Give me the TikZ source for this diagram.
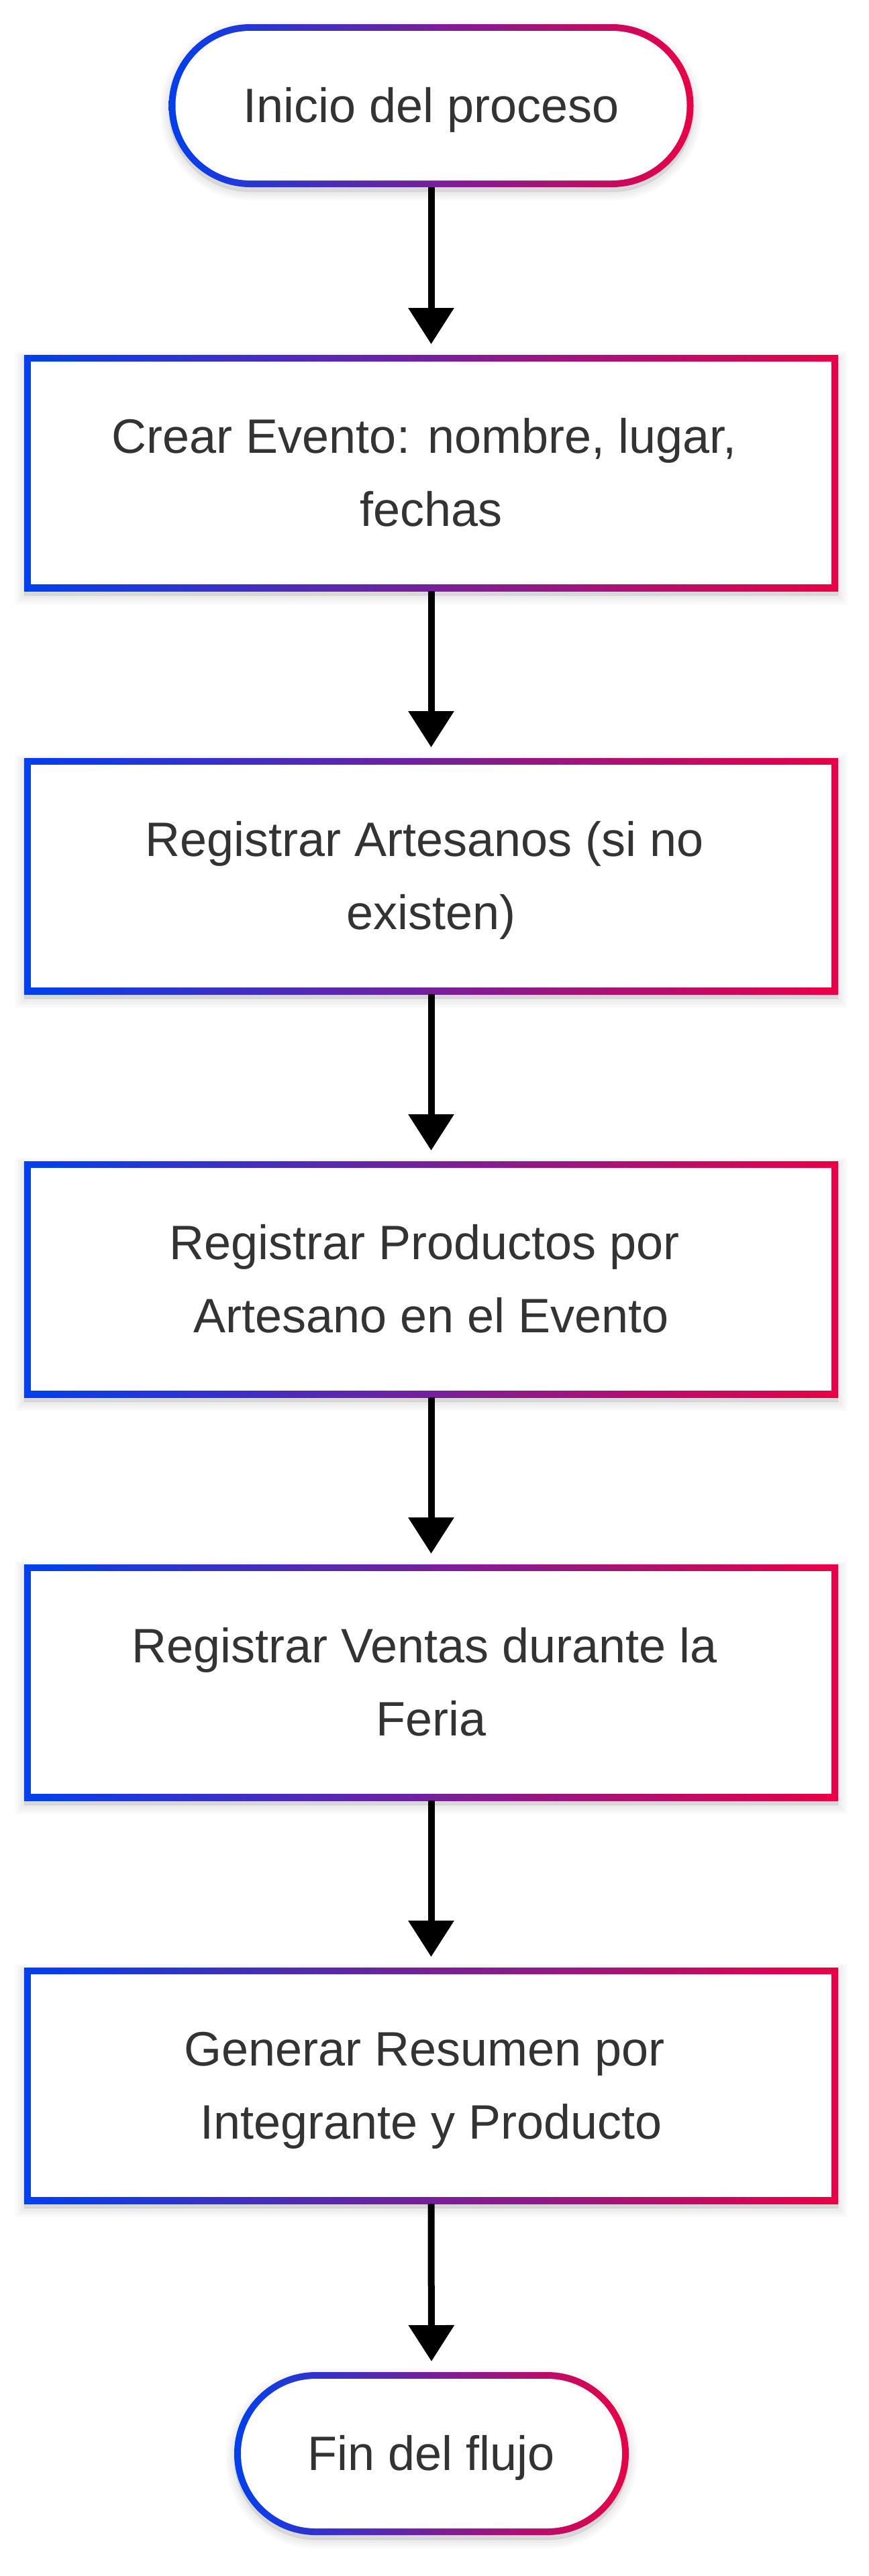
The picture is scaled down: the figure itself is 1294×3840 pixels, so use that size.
\documentclass[tikz,border=0pt]{standalone}
\usepackage{fontspec}
\setmainfont{Liberation Sans}
\usetikzlibrary{arrows.meta}
\newdimen\pxu \pxu=0.2pt
\definecolor{gblue}{HTML}{0040F0}
\definecolor{gred}{HTML}{EB0045}
\definecolor{txt}{HTML}{333333}
\newcommand\mystrut{\rule[-6pt]{0pt}{21.8pt}}
\newcommand\tsp{\hspace*{0.278em}}
\begin{document}
\begin{tikzpicture}[x=0.2pt,y=-0.2pt,
  shadowlayer/.style={preaction={fill=black, draw=black, opacity=0.025, line width=#1, transform canvas={yshift=-1.4pt}}},
  softshadow/.style={shadowlayer=0.5pt, shadowlayer=2pt, shadowlayer=3.5pt, shadowlayer=5pt},
  base/.style={softshadow, left color=gblue, right color=gred, inner sep=0pt, outer sep=0pt,
    text=txt, font=\fontsize{14.4pt}{21.8pt}\selectfont, align=center},
  procbox/.style={base, rectangle, minimum width=242.6pt, minimum height=70.4pt,
    path picture={\fill[white] ([shift={(2pt,-2pt)}]path picture bounding box.north west) rectangle ([shift={(-2pt,2pt)}]path picture bounding box.south east);}},
  termbox/.style={base, rectangle, rounded corners=24.3pt, minimum height=48.6pt, minimum width=#1,
    path picture={\fill[white, rounded corners=22.3pt] ([shift={(2pt,-2pt)}]path picture bounding box.north west) rectangle ([shift={(-2pt,2pt)}]path picture bounding box.south east);}},
  arr/.style={draw=black, line width=2pt, shorten >=3.2pt, -{Triangle[width=13.2pt,length=10.8pt]}}
]
\useasboundingbox (0,0) rectangle (1294,3840);

\node[termbox=156.4pt] (n0) at (642.5,157.5) {\mystrut Inicio del proceso};
\node[procbox] (n1) at (642.5,705) {\mystrut Crear Evento: nombre, lugar,\tsp\\\mystrut fechas};
\node[procbox] (n2) at (642.5,1306) {\mystrut Registrar Artesanos (si no\tsp\\\mystrut existen)};
\node[procbox] (n3) at (642.5,1907) {\mystrut Registrar Productos por\tsp\\\mystrut Artesano en el Evento};
\node[procbox] (n4) at (642.5,2508) {\mystrut Registrar Ventas durante la\tsp\\\mystrut Feria};
\node[procbox] (n5) at (642.5,3109) {\mystrut Generar Resumen por\tsp\\\mystrut Integrante y Producto};
\node[termbox=117.6pt] (n6) at (643,3657.5) {\mystrut Fin del flujo};

\draw[arr] (n0.south) -- (n1.north);
\draw[arr] (n1.south) -- (n2.north);
\draw[arr] (n2.south) -- (n3.north);
\draw[arr] (n3.south) -- (n4.north);
\draw[arr] (n4.south) -- (n5.north);
\draw[arr] (n5.south) -- (n6.north);
\end{tikzpicture}
\end{document}
